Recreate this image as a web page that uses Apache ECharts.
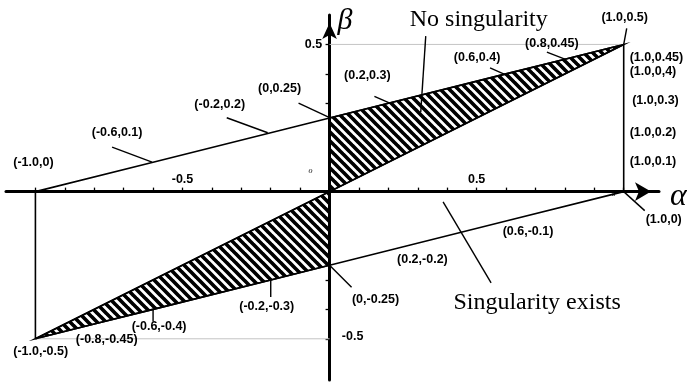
<!DOCTYPE html>
<html>
<head>
<meta charset="utf-8">
<script src="https://cdn.jsdelivr.net/npm/echarts@6/dist/echarts.min.js"></script>
<style>
html,body{margin:0;padding:0;background:#fff;}
#main{width:687px;height:385px;}
</style>
</head>
<body>
<div id="main"></div>
<script>
// upper boundary  beta = 0.25 + 0.25*alpha
var upperAlpha = [-1.0, -0.6, -0.2, 0, 0.2, 0.6, 0.8, 1.0];
var upperBeta  = [0, 0.1, 0.2, 0.25, 0.3, 0.4, 0.45, 0.5];
// lower boundary  beta = -0.25 + 0.25*alpha
var lowerAlpha = [-1.0, -0.8, -0.6, -0.2, 0, 0.2, 0.6, 1.0];
var lowerBeta  = [-0.5, -0.45, -0.4, -0.3, -0.25, -0.2, -0.1, 0];
// diagonal  beta = 0.5*alpha
var diagAlpha = [-1.0, 0, 1.0];
var diagBeta  = [-0.5, 0, 0.5];
// points marked on the edge alpha = 1.0
var edgeBeta = [0.45, 0.4, 0.3, 0.2, 0.1];

var upperText = ['(-1.0,0)', '(-0.6,0.1)', '(-0.2,0.2)', '(0,0.25)', '(0.2,0.3)', '(0.6,0.4)', '(0.8,0.45)', '(1.0,0.5)'];
var edgeText  = ['(1.0,0.45)', '(1.0,0,4)', '(1.0,0.3)', '(1.0,0.2)', '(1.0,0.1)'];
var lowerText = ['(1.0,0)', '(0.6,-0.1)', '(0.2,-0.2)', '(0,-0.25)', '(-0.2,-0.3)', '(-0.6,-0.4)', '(-0.8,-0.45)', '(-1.0,-0.5)'];

var regionText  = ['No singularity', 'Singularity exists'];
var regionAlpha = [0.31, 0.386];
var regionBeta  = [0.27, -0.035];

var xTicks  = [-1.0, -0.9, -0.8, -0.7, -0.6, -0.5, -0.4, -0.3, -0.2, -0.1, 0.1, 0.2, 0.3, 0.4, 0.5, 0.6, 0.7, 0.8, 0.9, 1.0];
var yTicks  = [0.5, 0.4, 0.3, -0.3, -0.4, -0.5];
var xLabels = [-0.5, 0.5];
var yLabelsLeft  = [0.5];
var yLabelsRight = [-0.5];

//
function pairs(a, b) {
    return a.map(function (v, i) { return [v, b[i]]; });
}
var upperPts = pairs(upperAlpha, upperBeta);
var lowerPts = pairs(lowerAlpha, lowerBeta);
var diagPts = pairs(diagAlpha, diagBeta);
var origin = diagPts[1];
var last = upperPts.length - 1;

var hatchRight = upperPts.filter(function (p) { return p[0] >= 0; }).concat([origin]);
var hatchLeft = lowerPts.filter(function (p) { return p[0] <= 0; }).concat([origin]);

// label offsets in px from the point: [dx, dy, align, leader]
var upperLayout = [
    [-2, -29], [-36, -30, 'center', [-41, -15, -1, 0]], [-51, -28, 'center', [-44, -15, -3, 0]],
    [-50, -29, 'center', [-31, -15, -1, -1]], [-21, -28, 'center', [-14, -7, 2, 0]],
    [-29, -16, 'center', [-16, -6, 2, 2]], [-13, -16, 'center', [-18, -7, 0, 0]], [1, -27, 'center', [3, -16, 0, 0]]
];
var edgeLayout = [[6, -2, 'left'], [6, -2, 'left'], [8.5, -3, 'left'], [6, 0, 'left'], [6, -1, 'left']];
var lowerLayout = [
    [40, 28, 'center', [0, 0, 21, 19]], [22, 10], [34, 9], [46, 34, 'center', [0, 0, 22, 22]],
    [-4, 27, 'center', [0, 0, 0, 17]], [6, 17, 'center', [0, 0, 0, 12]], [12.5, 15], [5.3, 12.5]
];
var regionLayout = [[58, -92, 'center', [5, -76, 0, 0]], [94, 101, 'center', [0, 0, 48, 81]]];

//斜线填充
function makeHatch() {
    var s = 9;
    var c = document.createElement('canvas');
    c.width = s; c.height = s;
    var g = c.getContext('2d');
    g.strokeStyle = '#000';
    g.lineWidth = 3.7;
    g.beginPath();
    for (var k = -1; k <= 1; k++) {
        g.moveTo(k * s - 1, -1);
        g.lineTo(k * s + s + 1, s + 1);
    }
    g.stroke();
    return c;
}
var hatch = makeHatch();

var labelFont = 'bold 12.5px "Liberation Sans", Arial, sans-serif';
var serifFont = '24px "Liberation Serif", "Times New Roman", serif';

function lineSeries(data, color, width) {
    return {
        type: 'line', data: data, symbol: 'none', silent: true, z: 3,
        lineStyle: {color: color || '#000', width: width || 1.6}
    };
}

function polySeries(poly) {
    return {
        type: 'custom', data: [0], silent: true, z: 2, clip: false,
        renderItem: function (params, api) {
            var pts = poly.map(function (p) { return api.coord(p); });
            return {
                type: 'polygon', shape: {points: pts},
                style: {fill: {image: hatch, repeat: 'repeat'}, stroke: '#000', lineWidth: 1.6}
            };
        }
    };
}

function noteSeries(points, texts, layout, font) {
    return {
        type: 'custom', data: points, silent: true, z: 5, clip: false,
        encode: {x: 0, y: 1},
        renderItem: function (params, api) {
            var i = params.dataIndex;
            var p = api.coord([api.value(0), api.value(1)]);
            var lay = layout[i] || layout[0];
            var kids = [{
                type: 'text', x: p[0] + lay[0], y: p[1] + lay[1],
                style: {text: texts[i], font: font, fill: '#000', align: lay[2] || 'center', verticalAlign: 'middle'}
            }];
            var ld = lay[3];
            if (ld) {
                kids.push({
                    type: 'line',
                    shape: {x1: p[0] + ld[0], y1: p[1] + ld[1], x2: p[0] + ld[2], y2: p[1] + ld[3]},
                    style: {stroke: '#000', lineWidth: 1.4}
                });
            }
            return {type: 'group', children: kids};
        }
    };
}

function fmt(v) { return String(v); }

var chart = echarts.init(document.getElementById('main'), null, {renderer: 'canvas'});
var option = {
    animation: false,
    backgroundColor: '#fff',
    grid: {left: 6, right: 28, top: 15, bottom: 5, outerBoundsMode: 'none'},
    xAxis: {
        type: 'value', min: -1.1, max: 1.12,
        name: '{a|α}', nameLocation: 'end', nameGap: 11,
        nameTextStyle: {
            rich: {a: {fontFamily: '"Liberation Serif", serif', fontStyle: 'italic', fontSize: 32, color: '#000', padding: [10, 0, 0, 0]}}
        },
        axisLine: {onZero: true, symbol: ['none', 'arrow'], symbolSize: [14, 16], symbolOffset: [0, -8], lineStyle: {color: '#000', width: 3}},
        axisTick: {show: true, inside: true, length: 4, customValues: xTicks, lineStyle: {color: '#000', width: 1.3}},
        axisLabel: {show: false},
        splitLine: {show: false}
    },
    yAxis: {
        type: 'value', min: -0.64, max: 0.6, position: 'left',
        name: 'β', nameLocation: 'end', nameGap: -6,
        nameTextStyle: {fontFamily: '"Liberation Serif", serif', fontStyle: 'italic', fontSize: 30, color: '#000', align: 'left', verticalAlign: 'middle', padding: [0, 0, 0, 8]},
        axisLine: {onZero: true, symbol: ['none', 'arrow'], symbolSize: [11, 16], symbolOffset: [0, -8], lineStyle: {color: '#000', width: 3}},
        axisTick: {show: true, length: 4, customValues: yTicks, lineStyle: {color: '#000', width: 1.3}},
        axisLabel: {show: false},
        splitLine: {show: false}
    },
    series: [
        polySeries(hatchRight),
        polySeries(hatchLeft),
        lineSeries([[origin[0], upperPts[last][1]], upperPts[last]], '#c4c4c4', 1),
        lineSeries([lowerPts[0], [origin[0], lowerPts[0][1]]], '#c4c4c4', 1),
        lineSeries(upperPts),
        lineSeries(lowerPts),
        lineSeries(diagPts),
        lineSeries([lowerPts[last], upperPts[last]]),
        lineSeries([upperPts[0], lowerPts[0]]),
        // tick labels
        noteSeries(xLabels.map(function (v) { return [v, 0]; }), xLabels.map(fmt), [[0, -12]], labelFont),
        noteSeries(yLabelsLeft.map(function (v) { return [0, v]; }), yLabelsLeft.map(fmt), [[-16, 0]], labelFont),
        noteSeries(yLabelsRight.map(function (v) { return [0, v]; }), yLabelsRight.map(fmt), [[23, -2]], labelFont),
        // point labels
        noteSeries(upperPts, upperText, upperLayout, labelFont),
        noteSeries(edgeBeta.map(function (b) { return [upperAlpha[last], b]; }), edgeText, edgeLayout, labelFont),
        noteSeries(lowerPts.slice().reverse(), lowerText, lowerLayout, labelFont),
        noteSeries(pairs(regionAlpha, regionBeta), regionText, regionLayout, serifFont),
        noteSeries([origin], ['o'], [[-19, -21]], 'italic 8px "Liberation Serif", serif'),
        noteSeries([lowerPts[last]], ['α'], [[-10, 3]], 'italic 7px "Liberation Serif", serif')
    ]
};
chart.setOption(option);
</script>
</body>
</html>
